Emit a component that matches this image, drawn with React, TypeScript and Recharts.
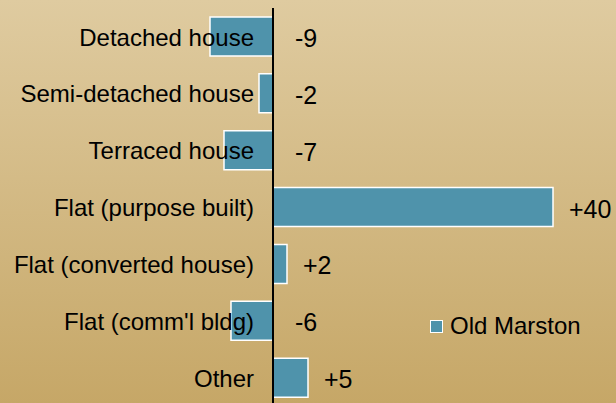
import React from 'react';
import { BarChart, Bar, XAxis, YAxis, ReferenceLine, LabelList } from 'recharts';

const categories = [
  'Detached house',
  'Semi-detached house',
  'Terraced house',
  'Flat (purpose built)',
  'Flat (converted house)',
  "Flat (comm'l bldg)",
  'Other',
];
const changes = [-9, -2, -7, 40, 2, -6, 5];
const changeLabels = ['-9', '-2', '-7', '+40', '+2', '-6', '+5'];
const seriesName = 'Old Marston';

const data = categories.map((name, i) => ({ name, change: changes[i] }));

const BAR_COLOR = '#4F93AB';
const FONT = '"Liberation Sans", Arial, sans-serif';

// category name sits left of the zero line
const renderCategory = (props: any) => {
  const { x, y, width, height, index } = props;
  const x1 = Math.min(x, x + width);
  const x2 = Math.max(x, x + width);
  const zero = changes[index] < 0 ? x2 : x1;
  return (
    <text x={zero - 19} y={y + height / 2 + 9} textAnchor="end" fill="#000" fontSize={24} fontFamily={FONT}>
      {categories[index]}
    </text>
  );
};

// value label right of the zero line / bar end
const renderValue = (props: any) => {
  const { x, y, width, height, index } = props;
  const x2 = Math.max(x, x + width);
  const lx = changes[index] < 0 ? x2 + 22 : x2 + 16;
  return (
    <text x={lx} y={y + height / 2 + 10.5} textAnchor="start" fill="#000" fontSize={25} fontFamily={FONT}>
      {changeLabels[index]}
    </text>
  );
};

export default function App() {
  return (
    <div
      style={{
        position: 'relative',
        width: 616,
        height: 403,
        overflow: 'hidden',
        background: 'linear-gradient(to bottom, #DFCBA0 0%, #C6A767 100%)',
      }}
    >
      <style>{`body{margin:0}`}</style>
      <BarChart
        width={616}
        height={406}
        data={data}
        layout="vertical"
        margin={{ top: 8, right: 21, bottom: 0, left: 7 }}
        barSize={39}
      >
        <XAxis type="number" domain={[-38, 46]} hide />
        <YAxis type="category" dataKey="name" hide />
        <Bar dataKey="change" fill={BAR_COLOR} stroke="#fff" strokeWidth={1.5} isAnimationActive={false} name={seriesName}>
          <LabelList dataKey="name" content={renderCategory} />
          <LabelList dataKey="change" content={renderValue} />
        </Bar>
        <ReferenceLine x={0} stroke="#000" strokeWidth={2} />
      </BarChart>
      {/* legend */}
      <div
        style={{
          position: 'absolute',
          left: 430,
          top: 314,
          display: 'flex',
          alignItems: 'center',
          fontFamily: FONT,
          fontSize: 24,
          color: '#000',
          lineHeight: 1,
        }}
      >
        <span
          style={{
            display: 'inline-block',
            width: 11,
            height: 11,
            background: BAR_COLOR,
            border: '1.5px solid #fff',
            marginRight: 7,
          }}
        />
        <span>{seriesName}</span>
      </div>
    </div>
  );
}
